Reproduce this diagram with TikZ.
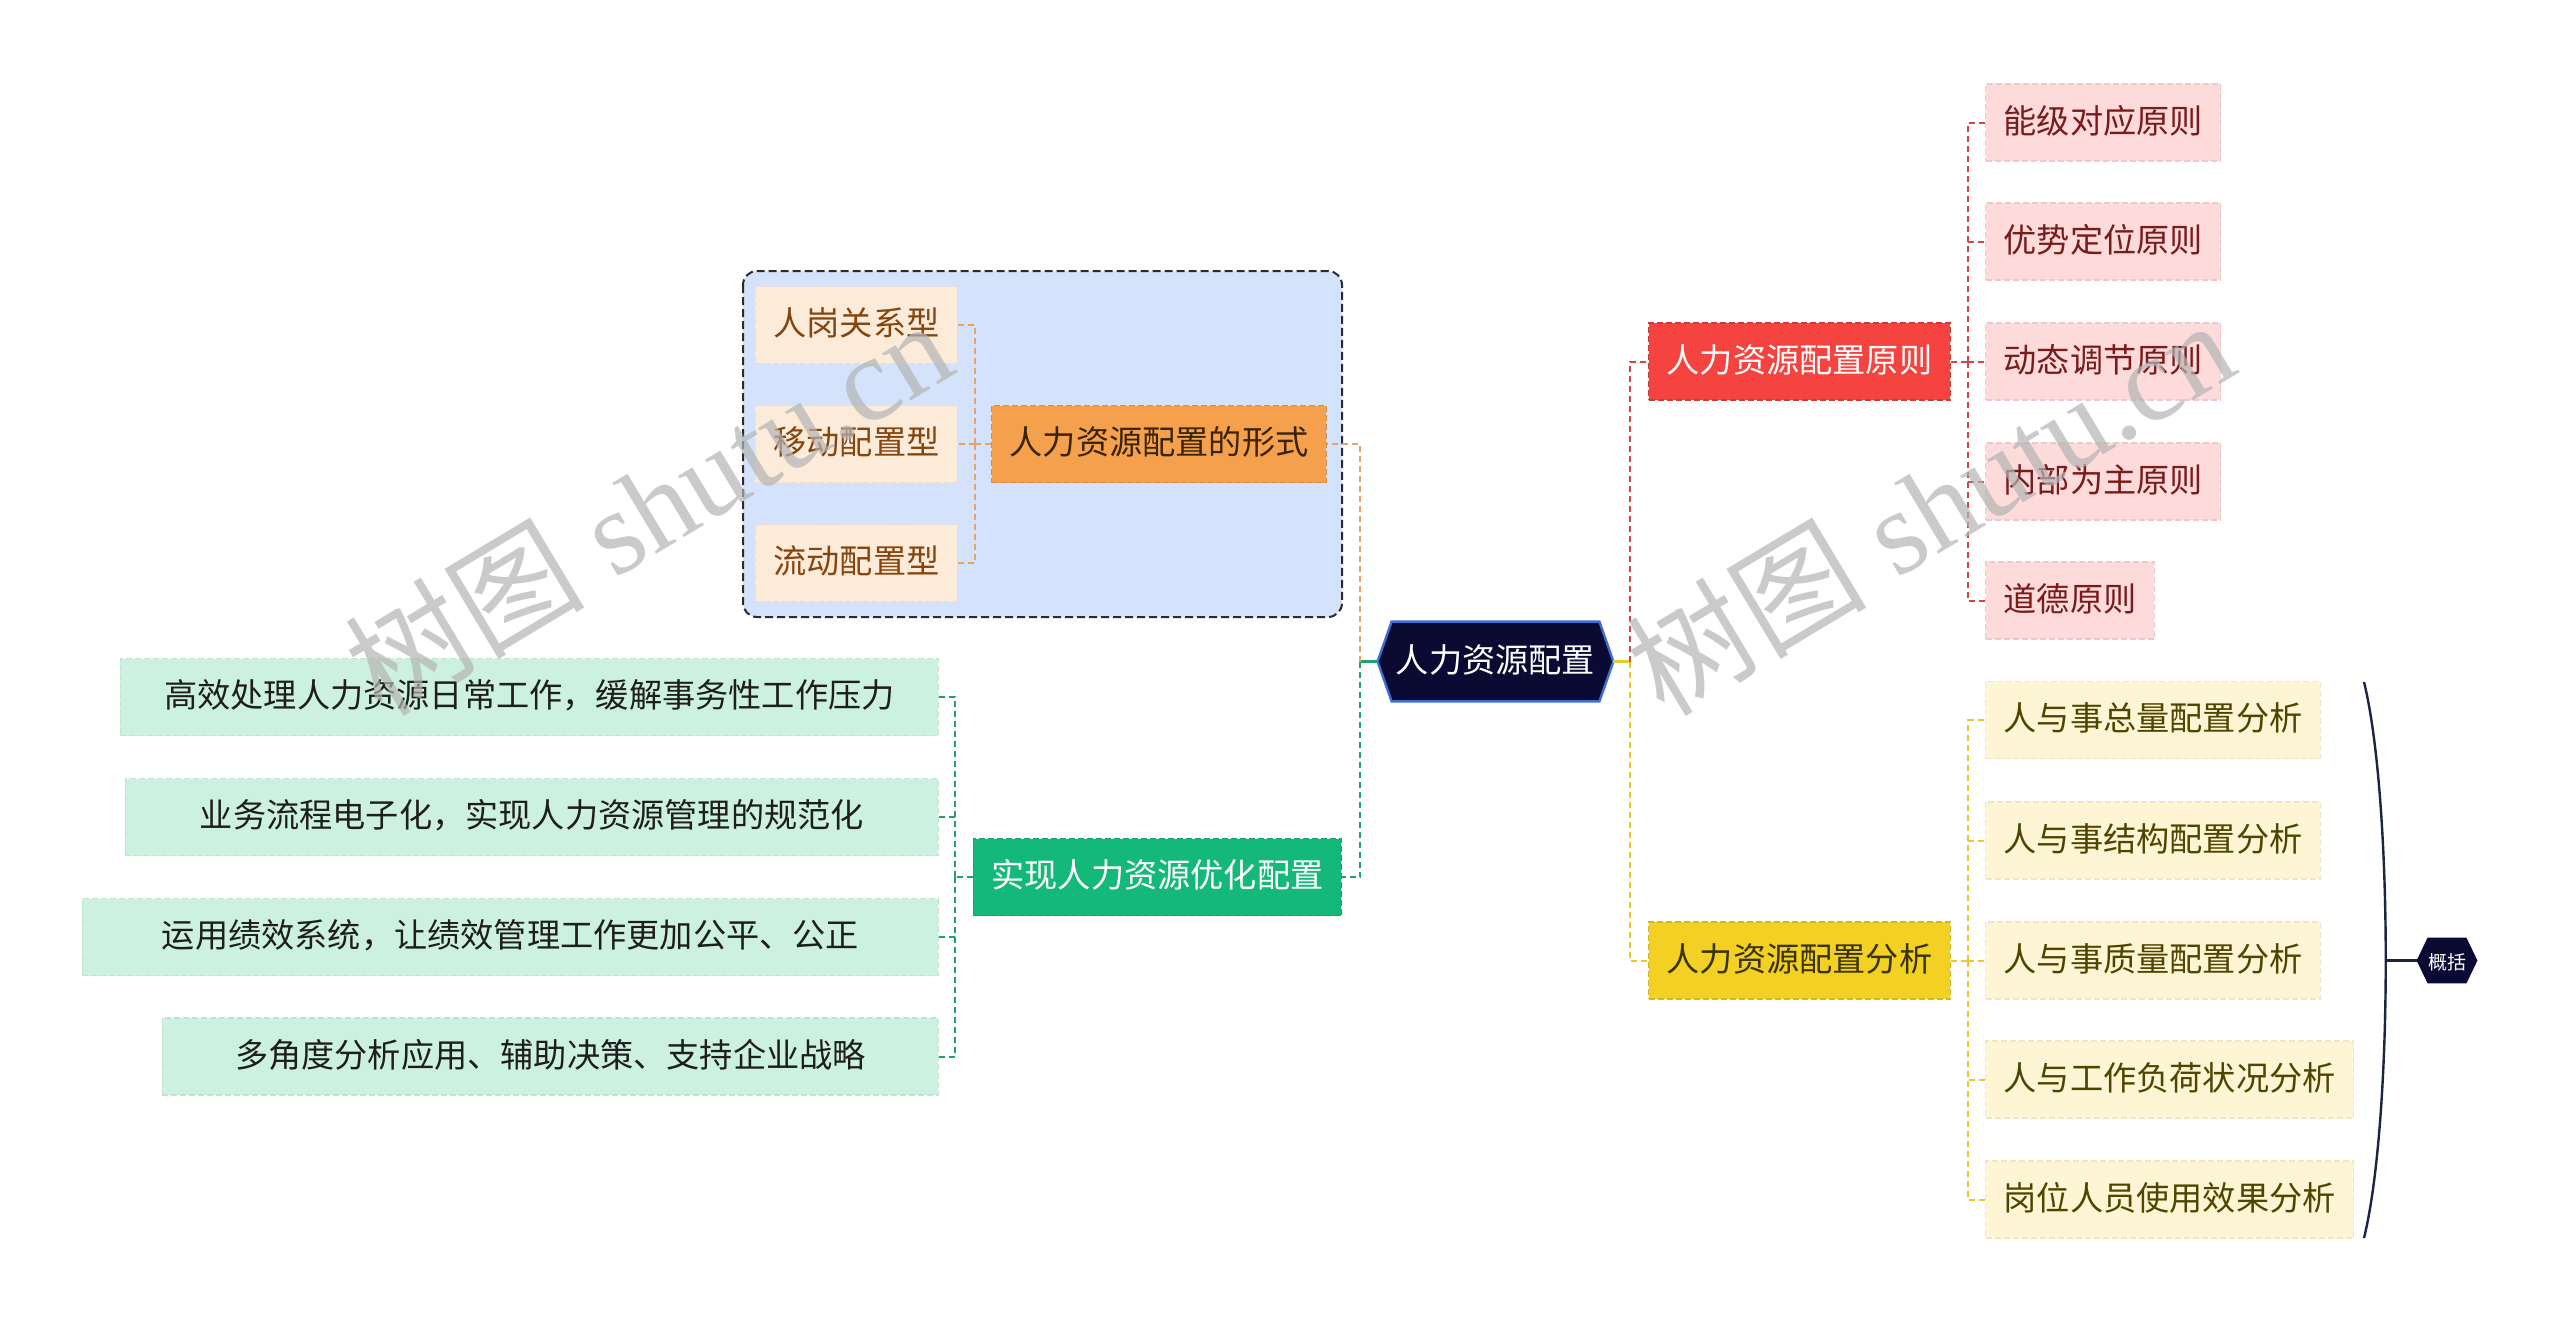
\documentclass[tikz,border=0pt]{standalone}
\usepackage{fontspec}
\newfontfamily\cjk{Noto Sans CJK SC}
\newfontfamily\wmserif{Liberation Serif}
\usetikzlibrary{backgrounds}
\definecolor{navy}{HTML}{0A0A33}
\definecolor{rootblue}{HTML}{3B6FD6}
\definecolor{redfill}{HTML}{F5433F}
\definecolor{redline}{HTML}{D24646}
\definecolor{pinkfill}{HTML}{FDDBDB}
\definecolor{pinktext}{HTML}{7A1B1B}
\definecolor{goldfill}{HTML}{F2D024}
\definecolor{goldline}{HTML}{E9C72D}
\definecolor{goldtext}{HTML}{3A3300}
\definecolor{creamfill}{HTML}{FDF5D3}
\definecolor{creamtext}{HTML}{4F4500}
\definecolor{orangefill}{HTML}{F5A04D}
\definecolor{orangeline}{HTML}{E9A266}
\definecolor{orangetext}{HTML}{3A2400}
\definecolor{peachfill}{HTML}{FDEBD9}
\definecolor{peachtext}{HTML}{85450F}
\definecolor{boxfill}{HTML}{D4E3FB}
\definecolor{boxline}{HTML}{2B2B2B}
\definecolor{greenfill}{HTML}{14B97A}
\definecolor{greenline}{HTML}{1EA36E}
\definecolor{mintfill}{HTML}{CDF1E1}
\definecolor{minttext}{HTML}{1E1E1E}
\definecolor{bracketc}{HTML}{1B2541}
\definecolor{wmgray}{HTML}{B4B4B4}
\tikzset{
  basebox/.style={rectangle, inner xsep=9pt, inner ysep=0pt, minimum height=38.5pt,
    font=\cjk\fontsize{16.6pt}{18pt}\selectfont, text height=1.12em, text depth=0.04em,
    line width=0.6pt, dash pattern=on 3pt off 1.5pt},
  redbox/.style={basebox, fill=redfill, draw=redfill!85!black, text=white},
  pinkbox/.style={basebox, fill=pinkfill, draw=pinkfill!92!black, text=pinktext, anchor=west},
  goldbox/.style={basebox, fill=goldfill, draw=goldfill!88!black, text=goldtext},
  creambox/.style={basebox, fill=creamfill, draw=creamfill!94!black, text=creamtext, anchor=west},
  orangebox/.style={basebox, fill=orangefill, draw=orangefill!88!black, text=orangetext},
  peachbox/.style={basebox, fill=peachfill, draw=peachfill!94!black, text=peachtext, anchor=east},
  greenbox/.style={basebox, fill=greenfill, draw=greenfill!88!black, text=white},
  mintbox/.style={basebox, fill=mintfill, draw=mintfill!94!black, text=minttext, anchor=east, inner xsep=0pt},
  conn/.style={line width=1pt, dash pattern=on 3pt off 2pt},
  rconn/.style={conn, draw=redline},
  yconn/.style={conn, draw=goldline},
  oconn/.style={conn, draw=orangeline},
  gconn/.style={conn, draw=greenline},
  wm/.style={text=wmgray, text opacity=0.7, font=\wmserif\fontsize{60pt}{62pt}\selectfont, rotate=31, inner sep=0pt},
}
\begin{document}
\begin{tikzpicture}[x=0.5pt,y=-0.5pt]
\useasboundingbox (0,0) rectangle (2560,1323);
\begin{pgfonlayer}{background}
\fill[white] (0,0) rectangle (2560,1323);
\end{pgfonlayer}

% root
\node[font=\cjk\fontsize{16.6pt}{18pt}\selectfont, text=white, minimum width=117.5pt, minimum height=39.5pt,
  inner sep=0pt, text height=1.12em, text depth=0.04em] (root) at (1495.5,661.5) {人力资源配置};
\begin{pgfonlayer}{background}
\filldraw[fill=navy, draw=rootblue, line width=1.2pt]
  (root.west) -- ([xshift=7pt]root.north west) -- ([xshift=-7pt]root.north east) -- (root.east)
  -- ([xshift=-7pt]root.south east) -- ([xshift=7pt]root.south west) -- cycle;
\end{pgfonlayer}

% left group box
\draw[fill=boxfill, draw=boxline, line width=1pt, rounded corners=7pt, dash pattern=on 4pt off 2pt]
  (743,271) rectangle (1342,617);

% right side
\node[redbox, anchor=west] (rp) at (1648,361.5) {人力资源配置原则};
\node[goldbox, anchor=west] (ya) at (1648,960.5) {人力资源配置分析};

\node[pinkbox] (p1) at (1985,122.5) {能级对应原则};
\node[pinkbox] (p2) at (1985,241.5) {优势定位原则};
\node[pinkbox] (p3) at (1985,361.5) {动态调节原则};
\node[pinkbox] (p4) at (1985,481.5) {内部为主原则};
\node[pinkbox] (p5) at (1985,600.5) {道德原则};

\node[creambox] (c1) at (1985,720) {人与事总量配置分析};
\node[creambox] (c2) at (1985,840.5) {人与事结构配置分析};
\node[creambox] (c3) at (1985,960.5) {人与事质量配置分析};
\node[creambox] (c4) at (1985,1079.5) {人与工作负荷状况分析};
\node[creambox] (c5) at (1985,1199.5) {岗位人员使用效果分析};

% left side
\node[orangebox, anchor=east] (of) at (1327,444) {人力资源配置的形式};
\node[peachbox] (o1) at (958,325) {人岗关系型};
\node[peachbox] (o2) at (958,444) {移动配置型};
\node[peachbox] (o3) at (958,563) {流动配置型};

\node[greenbox, anchor=east] (gr) at (1342,877) {实现人力资源优化配置};
\node[mintbox, minimum width=409pt] (g1) at (939,697) {高效处理人力资源日常工作，缓解事务性工作压力};
\node[mintbox, minimum width=406.5pt] (g2) at (939,817) {业务流程电子化，实现人力资源管理的规范化};
\node[mintbox, minimum width=428pt] (g3) at (939,937) {运用绩效系统，让绩效管理工作更加公平、公正};
\node[mintbox, minimum width=388pt] (g4) at (939,1056.5) {多角度分析应用、辅助决策、支持企业战略};

% summary
\node[font=\cjk\fontsize{9.5pt}{11pt}\selectfont, text=white, minimum width=30pt, minimum height=22.5pt,
  inner sep=0pt, text height=1.0em, text depth=0.06em] (sum) at (2447,960.5) {概括};
\begin{pgfonlayer}{background}
\fill[navy]
  (sum.west) -- ([xshift=5.5pt]sum.north west) -- ([xshift=-5.5pt]sum.north east) -- (sum.east)
  -- ([xshift=-5.5pt]sum.south east) -- ([xshift=5.5pt]sum.south west) -- cycle;
\end{pgfonlayer}

% junction coordinates
\coordinate (jl) at (1360,661.5);
\coordinate (jr) at (1630,661.5);
\coordinate (jrp) at (1968,361.5);
\coordinate (jya) at (1968,960.5);
\coordinate (jof) at (975,444);
\coordinate (jgr) at (955,877);
\coordinate (btop) at (2364,682);
\coordinate (bbot) at (2364,1238);
\coordinate (bmid) at (2386,960.5);

% connectors from root
\draw[greenline, line width=1.2pt] (root.west) -- (jl);
\draw[goldline, line width=1.2pt] (root.east) -- (jr);
\draw[oconn] (jl) |- (of.east);
\draw[gconn] (jl) |- (gr.east);
\draw[rconn] (jr) |- (rp.west);
\draw[yconn] (jr) |- (ya.west);

% red branch
\draw[rconn] (rp.east) -- (jrp);
\foreach \n in {p1,p2,p3,p4,p5} \draw[rconn] (jrp) |- (\n.west);
% gold branch
\draw[yconn] (ya.east) -- (jya);
\foreach \n in {c1,c2,c3,c4,c5} \draw[yconn] (jya) |- (\n.west);
% orange branch
\draw[oconn] (of.west) -- (jof);
\foreach \n in {o1,o2,o3} \draw[oconn] (jof) |- (\n.east);
% green branch
\draw[gconn] (gr.west) -- (jgr);
\foreach \n in {g1,g2,g3,g4} \draw[gconn] (jgr) |- (\n.east);

% summary bracket
\draw[bracketc, line width=1.2pt] (btop) .. controls (2393,800) and (2393,1120) .. (bbot);
\draw[bracketc, line width=1.2pt] (bmid) -- (sum.west);

% watermarks
\node[wm] (wm1) at (648,506) {{\cjk 树图} shutu.cn};
\node[wm] (wm2) at (1930,506) {{\cjk 树图} shutu.cn};
\end{tikzpicture}
\end{document}
